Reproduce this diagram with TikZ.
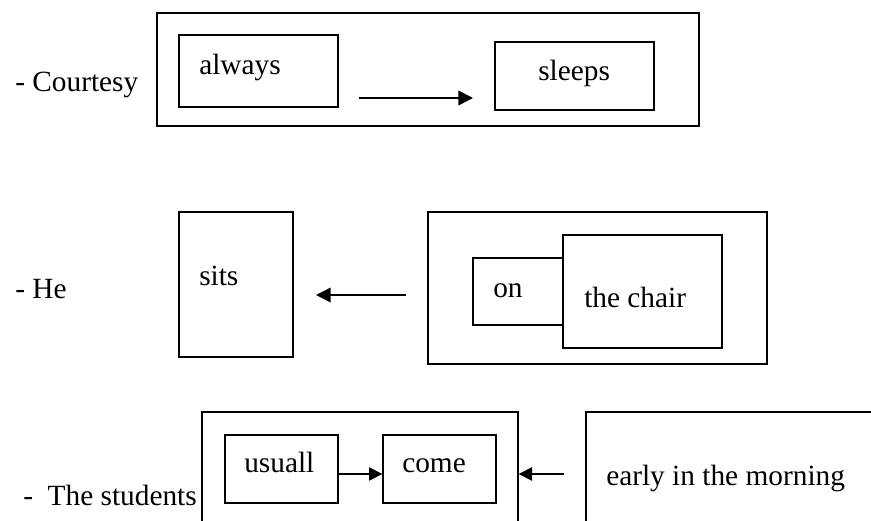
\documentclass[tikz,border=0pt]{standalone}
\usepackage{fontspec}
\setmainfont{Liberation Serif}
\usetikzlibrary{arrows.meta,fit}
\begin{document}
\begin{tikzpicture}[x=0.75pt,y=-0.75pt,
  box/.style={draw, line width=1pt, inner sep=0pt, rectangle},
  word/.style={anchor=base west, inner sep=0pt, font=\fontsize{22}{26}\selectfont},
  arr/.style={line width=1.1pt, -{Triangle[length=11pt,width=11pt]}},
  smallarr/.style={line width=1.1pt, -{Triangle[length=10pt,width=10pt]}}]
\useasboundingbox (0,0) rectangle (871,521);
\clip (0,0) rectangle (871,521);

% --- first sentence: Courtesy always sleeps
\node[word] (lblA) at (15,91) {- Courtesy};
\node[box, fit={(157,13)(699,126)}] (outA) {};
\node[box, fit={(179,35)(338,107)}] (alwaysbox) {};
\node[box, fit={(495,42)(654,110)}] (sleepsbox) {};
\node[word] (always) at (199,74) {always};
\node[word] (sleeps) at (538,80) {sleeps};
\coordinate (a1) at (359,98);
\coordinate (a2) at (473,98);
\draw[arr] (a1) -- (a2);

% --- second sentence: He sits on the chair
\node[word] (lblB) at (15,298) {- He};
\node[box, fit={(179,212)(293,357)}] (sitsbox) {};
\node[box, fit={(428,212)(767,364)}] (outB) {};
\node[box, fit={(473,258)(563,325)}] (onbox) {};
\node[box, fit={(563,235)(722,348)}] (chairbox) {};
\node[word] (sits) at (199,285) {sits};
\node[word] (on) at (493,297) {on};
\node[word] (chair) at (584,307) {the chair};
\coordinate (b1) at (406,295);
\coordinate (b2) at (316,295);
\draw[arr] (b1) -- (b2);

% --- third sentence: The students usuall come early in the morning
\node[word] (lblC) at (23,505) {-\ \ The students};
\node[box, fit={(202,412)(518,560)}] (outC) {};
\node[box, fit={(225,435)(338,503)}] (usuallbox) {};
\node[box, fit={(383,435)(496,503)}] (comebox) {};
\node[box, fit={(586,412)(900,560)}] (earlybox) {};
\node[word] (usuall) at (244,472) {usuall};
\node[word] (come) at (402,472) {come};
\node[word] (early) at (606,485) {early in the morning};
\draw[smallarr] ([yshift=-3.75pt]usuallbox.east) -- ([yshift=-3.75pt]comebox.west);
\coordinate (c1) at (564,474);
\draw[smallarr] (c1) -- (c1 -| outC.east);
\end{tikzpicture}
\end{document}
